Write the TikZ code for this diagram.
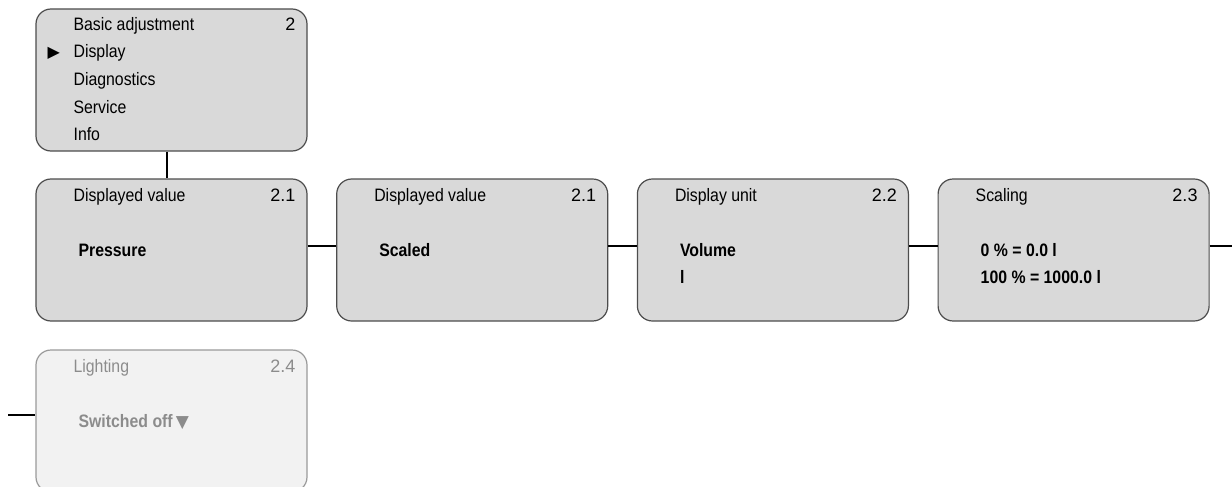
\documentclass[tikz,border=0pt]{standalone}
\usepackage{fontspec}
\setmainfont{Liberation Sans}[FakeStretch=0.88]
\newfontfamily\numfont{Liberation Sans}
\newfontfamily\symfont{DejaVu Sans}
\usepackage{tikz}
\usetikzlibrary{positioning, calc}
\definecolor{boxfill}{HTML}{D9D9D9}
\definecolor{boxline}{HTML}{4D4D4D}
\definecolor{fadefill}{HTML}{F2F2F2}
\definecolor{fadeline}{HTML}{9A9A9A}
\definecolor{fadetext}{HTML}{8C8C8C}

\begin{document}
\begin{tikzpicture}[x=1pt, y=-1pt,
    menubox/.style={rectangle, draw=boxline, fill=boxfill, rounded corners=15pt, line width=1.2pt, minimum width=271pt, minimum height=142pt, inner sep=0pt},
    fadedbox/.style={menubox, draw=fadeline, fill=fadefill},
    title/.style={anchor=base west, inner sep=0pt, font=\fontsize{18}{20}\selectfont},
    number/.style={anchor=base east, inner sep=0pt, font=\numfont\fontsize{18}{20}\selectfont},
    value/.style={anchor=base west, inner sep=0pt, font=\fontsize{18}{20}\selectfont\bfseries},
    pointer/.style={anchor=base west, inner sep=0pt, font=\symfont\fontsize{16}{16}\selectfont},
    link/.style={line width=1.4pt, black},
    node distance=28.5pt
]
    \useasboundingbox (0,0) rectangle (1232,487);
    \clip (0,0) rectangle (1232,487);

    % Main menu
    \node[menubox] (menu) at (171.5,80) {};
    \foreach \txt [count=\i from 0] in {Basic adjustment, Display, Diagnostics, Service, Info}
        \node[title] (m\i) at ($(menu.north west)+(38,22+27.6*\i)$) {\txt};
    \node[number] (mnum) at ($(menu.north east)+(-12,22)$) {2};
    \node[pointer] (mptr) at ($(m1.base west)+(-26,0)$) {▶};

    % Display submenu
    \node[menubox] (dv1) at (171.5,250) {};
    \node[menubox, right=of dv1] (dv2) {};
    \node[menubox, right=of dv2] (unit) {};
    \node[menubox, right=of unit] (scal) {};
    \node[fadedbox] (light) at (171.5,421) {};

    % Titles and numbers
    \node[title] (dv1t) at ($(dv1.north west)+(38,23)$) {Displayed value};
    \node[number] (dv1n) at ($(dv1.north east)+(-12,23)$) {2.1};
    \node[title] (dv2t) at ($(dv2.north west)+(38,23)$) {Displayed value};
    \node[number] (dv2n) at ($(dv2.north east)+(-12,23)$) {2.1};
    \node[title] (unitt) at ($(unit.north west)+(38,23)$) {Display unit};
    \node[number] (unitn) at ($(unit.north east)+(-12,23)$) {2.2};
    \node[title] (scalt) at ($(scal.north west)+(38,23)$) {Scaling};
    \node[number] (scaln) at ($(scal.north east)+(-12,23)$) {2.3};
    \node[title, text=fadetext] (lightt) at ($(light.north west)+(38,23)$) {Lighting};
    \node[number, text=fadetext] (lightn) at ($(light.north east)+(-12,23)$) {2.4};

    % Values
    \node[value] (dv1v) at ($(dv1.north west)+(43,78)$) {Pressure};
    \node[value] (dv2v) at ($(dv2.north west)+(43,78)$) {Scaled};
    \node[value] (unitv) at ($(unit.north west)+(43,78)$) {Volume};
    \node[value] (unitw) at ($(unit.north west)+(43,105)$) {l};
    \node[value] (scalv) at ($(scal.north west)+(43,78)$) {0 \% = 0.0 l};
    \node[value] (scalw) at ($(scal.north west)+(43,105)$) {100 \% = 1000.0 l};
    \node[value, text=fadetext] (lightv) at ($(light.north west)+(43,78)$) {Switched off\,{\symfont\fontsize{17}{17}\selectfont ▼}};

    % Connectors
    \coordinate (rout) at (1232,246);
    \coordinate (lin) at (8,415);
    \draw[link] ([xshift=-4.5pt]menu.south) -- ([xshift=-4.5pt]dv1.north);
    \draw[link] ([yshift=4pt]dv1.east) -- ([yshift=4pt]dv2.west);
    \draw[link] ([yshift=4pt]dv2.east) -- ([yshift=4pt]unit.west);
    \draw[link] ([yshift=4pt]unit.east) -- ([yshift=4pt]scal.west);
    \draw[link] ([yshift=4pt]scal.east) -- (rout);
    \draw[link] (lin) -- ([yshift=6pt]light.west);
\end{tikzpicture}
\end{document}
